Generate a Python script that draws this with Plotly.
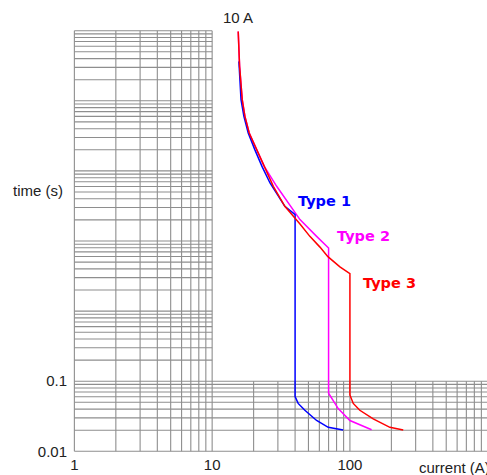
import plotly.graph_objects as go

# ---- data (current in A, time in s) ----
type1_current = [15.64, 16.2, 17.0, 18.27, 20.4, 23.0, 26.3, 33.7, 40.0,
                 40.0, 42.1, 47.1, 57.3, 69.6, 89.4]
type1_time = [3650, 1038, 600, 348, 201, 116, 67.3, 31.2, 23.8,
              0.0604, 0.0482, 0.0385, 0.0275, 0.022, 0.0201]

type2_current = [15.46, 15.82, 16.53, 17.29, 18.58, 21.2, 23.9, 29.4, 36.7, 43.4,
                 57.3, 70.0, 70.0, 75.6, 82.2, 100.0, 143.7]
type2_time = [9770, 3098, 1038, 600, 347.6, 201, 116, 60.3, 33.0, 20.2,
              11.65, 7.96, 0.0675, 0.0538, 0.0407, 0.0275, 0.0203]

type3_current = [15.46, 15.82, 16.53, 17.29, 18.58, 21.2, 23.9, 27.8, 33.7,
                 43.4, 51.2, 60.6, 69.2, 84.6, 100.0, 100.0, 105.7, 118.0, 147.6,
                 195.0, 243.8]
type3_time = [9770, 3098, 1038, 600, 347.6, 201, 116, 60.3, 31.2,
              17.5, 11.65, 8.18, 5.98, 4.27, 3.42, 0.0637, 0.0482, 0.0385, 0.029,
              0.022, 0.0201]

series_names = ["Type 1", "Type 2", "Type 3"]
series_colors = ["#0000ff", "#ff00ff", "#ff0000"]

x_tick_vals = [1, 10, 100]
x_tick_text = ["1", "10", "100"]
y_tick_vals = [0.01, 0.1]
y_tick_text = ["0.01", "0.1"]

# grid decades
grid_mult = [1, 2, 3, 4, 5, 6, 7, 8, 9]

# ---- build the L-shaped grid ----
gx, gy = [], []
for m in grid_mult + [10]:
    gx += [m, m, None]
    gy += [0.01, 10000, None]
for dec in [10, 100]:
    for m in grid_mult[1:] + [10]:
        v = m * dec
        gx += [v, v, None]
        gy += [0.01, 0.1, None]
for m in grid_mult + [10]:
    v = m * 0.01
    gx += [1, 1000, None]
    gy += [v, v, None]
for dec in [0.1, 1, 10, 100, 1000]:
    for m in grid_mult[1:] + [10]:
        v = m * dec
        gx += [1, 10, None]
        gy += [v, v, None]

fig = go.Figure()
fig.add_trace(go.Scatter(x=gx, y=gy, mode="lines",
                         line=dict(color="#8e8e8e", width=1.1),
                         hoverinfo="skip", showlegend=False))

curves = [(type1_current, type1_time), (type2_current, type2_time),
          (type3_current, type3_time)]
for i in [1, 0, 2]:
    cx, cy = curves[i]
    fig.add_trace(go.Scatter(x=cx, y=cy, mode="lines", name=series_names[i],
                             line=dict(color=series_colors[i], width=1.5),
                             showlegend=False))

W, H = 487, 475
L, R, T, B = 73, 0, 30, 23
pw, ph = W - L - R, H - T - B


def px(xp):
    return (xp - L) / pw


def py(yp):
    return (H - B - yp) / ph


label_font = dict(family="Liberation Sans, Arial, sans-serif", size=15, color="#222222")
type_font = "DejaVu Sans, Verdana, sans-serif"

annotations = [
    dict(text="time (s)", x=px(38.3), y=py(190.5), xanchor="center", yanchor="middle",
         font=label_font),
    dict(text="10 A", x=px(237.5), y=py(17.5), xanchor="center", yanchor="middle",
         font=label_font),
    dict(text="current (A)", x=px(416.7), y=py(467.0), xanchor="left", yanchor="middle",
         font=label_font),
    dict(text="<b>Type 1</b>", x=px(324), y=py(201.5), xanchor="center", yanchor="middle",
         font=dict(family=type_font, size=14.5, color=series_colors[0])),
    dict(text="<b>Type 2</b>", x=px(363.3), y=py(236), xanchor="center", yanchor="middle",
         font=dict(family=type_font, size=14.5, color=series_colors[1])),
    dict(text="<b>Type 3</b>", x=px(389), y=py(283), xanchor="center", yanchor="middle",
         font=dict(family=type_font, size=14.5, color=series_colors[2])),
]
for a in annotations:
    a.update(xref="paper", yref="paper", showarrow=False)

fig.update_layout(
    width=W, height=H,
    margin=dict(l=L, r=R, t=T, b=B, pad=0),
    paper_bgcolor="white", plot_bgcolor="white",
    annotations=annotations,
    xaxis=dict(type="log", range=[-0.01, 2.995], showgrid=False, zeroline=False,
               showline=False, ticks="", tickvals=x_tick_vals, ticktext=x_tick_text,
               tickfont=label_font, ticklabelstandoff=2, automargin=False),
    yaxis=dict(type="log", range=[-2.01, 4.01], showgrid=False, zeroline=False,
               showline=False, ticks="", tickvals=y_tick_vals, ticktext=y_tick_text,
               tickfont=label_font, ticklabelstandoff=5, automargin=False),
)

fig.write_html(
    "out.html",
    config={"displayModeBar": False},
    post_script="document.body.style.margin='0';document.body.style.overflow='hidden';",
)
